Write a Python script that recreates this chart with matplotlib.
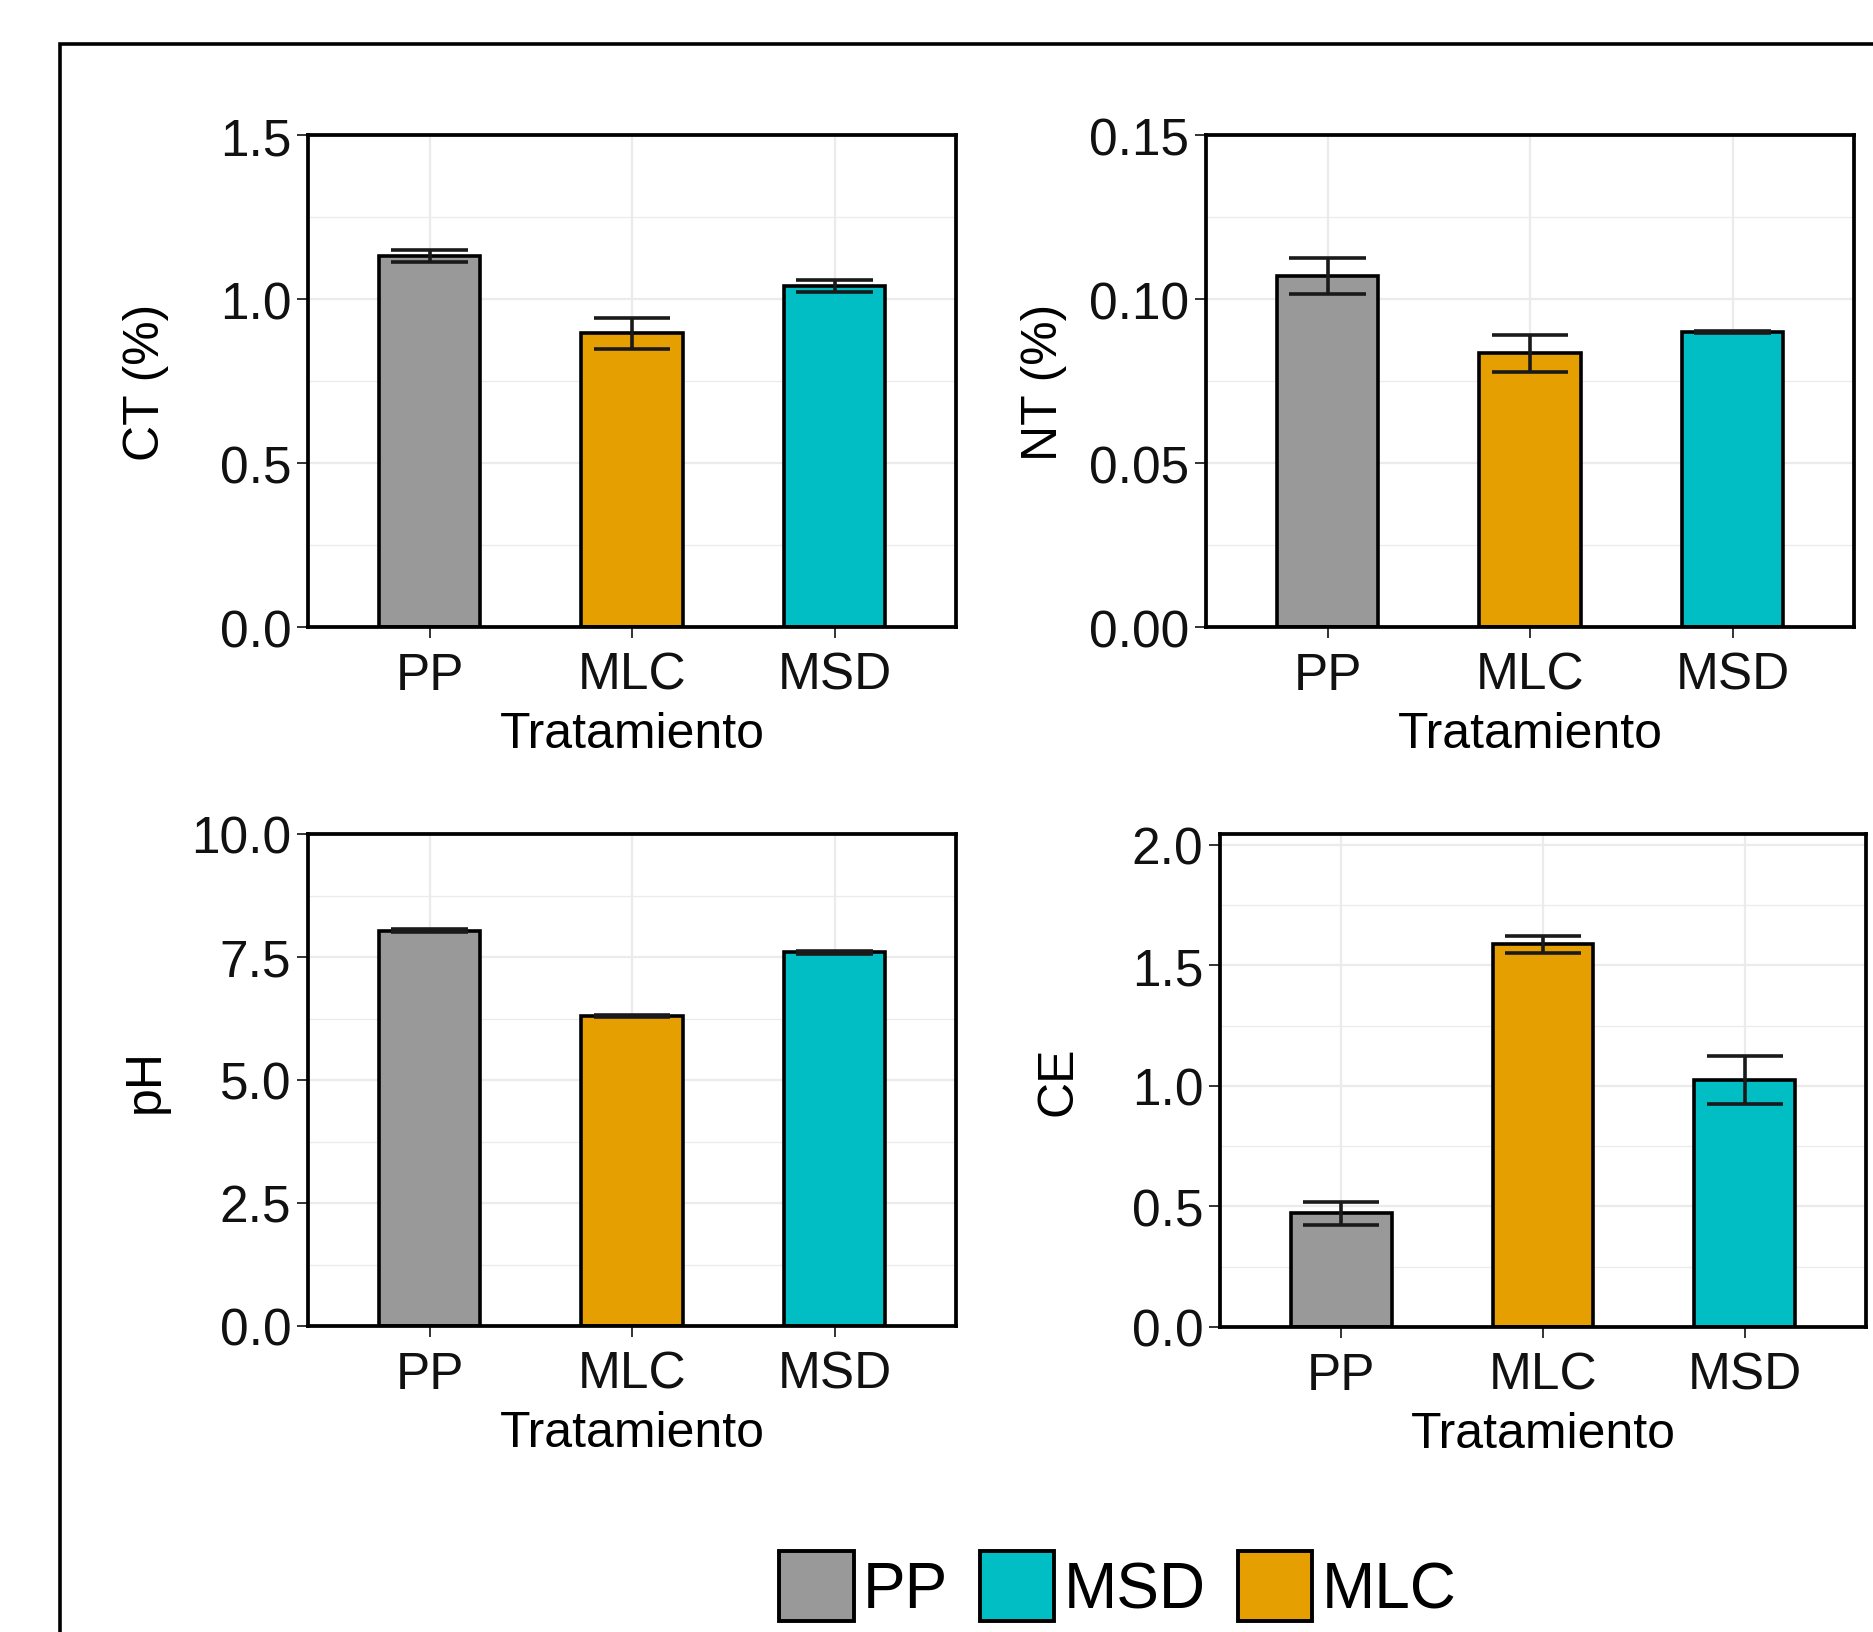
#!/usr/bin/env python3

"""
Bar charts (mean +/- error) of soil properties per treatment, 2x2 panel
"""

import numpy as np
import matplotlib
matplotlib.use("Agg")
import matplotlib.pyplot as plt
from matplotlib.patches import Patch, Rectangle

# data
categories = ['PP', 'MLC', 'MSD']
ct_mean = [1.13, 0.895, 1.04]
ct_err = [0.018, 0.047, 0.018]
nt_mean = [0.107, 0.0834, 0.0899]
nt_err = [0.0056, 0.0057, 0.0003]
ph_mean = [8.03, 6.31, 7.60]
ph_err = [0.03, 0.02, 0.03]
ce_mean = [0.471, 1.587, 1.025]
ce_err = [0.048, 0.035, 0.10]

bar_colors = ['#999999', '#E69F00', '#00BEC4']
legend_order = ['PP', 'MSD', 'MLC']

plt.rcParams['font.family'] = ['Liberation Sans', 'DejaVu Sans']

W, H = 1873, 1633


def px_axes(fig, left, right, top, bottom):
    """ add axes from pixel coords (top-left origin) """
    return fig.add_axes([left / W, (H - bottom) / H, (right - left) / W, (bottom - top) / H])


def panel(ax, means, errs, ylabel, ylim, major, minor, fmt):
    """ draw one ggplot-like bar panel """
    x = np.arange(1, len(categories) + 1)
    ax.set_axisbelow(True)
    ax.bar(x, means, width=0.5, color=bar_colors, edgecolor='black', linewidth=2.6, zorder=2)
    # error bars with caps drawn in data units
    for xi, m, e in zip(x, means, errs):
        ax.vlines(xi, m - e, m + e, color='#1a1a1a', linewidth=2.6, zorder=3)
        ax.hlines([m - e, m + e], xi - 0.19, xi + 0.19, color='#1a1a1a', linewidth=2.6, zorder=3)
    ax.set_xlim(0.4, 3.6)
    ax.set_ylim(*ylim)
    ax.set_xticks(x)
    ax.set_xticklabels(categories)
    ax.set_yticks(major)
    ax.set_yticklabels([fmt.format(v) for v in major])
    ax.set_yticks(minor, minor=True)
    ax.grid(True, which='major', color='#EBEBEB', linewidth=1.6)
    ax.grid(True, which='minor', axis='y', color='#EBEBEB', linewidth=0.9)
    ax.tick_params(which='major', length=8, width=1.4, color='#333333',
                   labelsize=37, labelcolor='#111111', pad=4)
    ax.tick_params(axis='x', which='major', pad=9)
    ax.tick_params(which='minor', length=0)
    ax.set_xlabel('Tratamiento', fontsize=36, labelpad=8)
    ax.set_ylabel(ylabel, fontsize=36)
    ax.yaxis.set_label_coords(-0.215, 0.5)
    for s in ax.spines.values():
        s.set_linewidth(2.7)
        s.set_color('black')


fig = plt.figure(figsize=(W / 100, H / 100), dpi=100)

# outer frame, cut off at right and bottom like the original
fig.patches.append(Rectangle((60 / W, -0.1), 1.2, (H - 45) / H + 0.1, transform=fig.transFigure,
                             fill=False, edgecolor='black', linewidth=2.6))

ax1 = px_axes(fig, 308, 956, 136, 628)
panel(ax1, ct_mean, ct_err, 'CT (%)', (0, 1.5), [0, 0.5, 1.0, 1.5],
      [0.25, 0.75, 1.25], '{:.1f}')

ax2 = px_axes(fig, 1206, 1854, 136, 628)
panel(ax2, nt_mean, nt_err, 'NT (%)', (0, 0.15), [0, 0.05, 0.10, 0.15],
      [0.025, 0.075, 0.125], '{:.2f}')

ax3 = px_axes(fig, 308, 956, 835, 1327)
panel(ax3, ph_mean, ph_err, 'pH', (0, 10), [0, 2.5, 5.0, 7.5, 10.0],
      [1.25, 3.75, 6.25, 8.75], '{:.1f}')

ax4 = px_axes(fig, 1220, 1866, 835, 1328)
panel(ax4, ce_mean, ce_err, 'CE', (0, 2.045), [0, 0.5, 1.0, 1.5, 2.0],
      [0.25, 0.75, 1.25, 1.75], '{:.1f}')

# legend at the bottom
handles = [Patch(facecolor=bar_colors[categories.index(c)], edgecolor='black', linewidth=2.8)
           for c in legend_order]
fig.legend(handles, legend_order, loc='center', bbox_to_anchor=(1118 / W, 46 / H),
           ncol=3, frameon=False, fontsize=46, handlelength=1.16, handleheight=1.33,
           handletextpad=0.15, columnspacing=0.5, borderpad=0)

fig.savefig('out.png', dpi=100)
